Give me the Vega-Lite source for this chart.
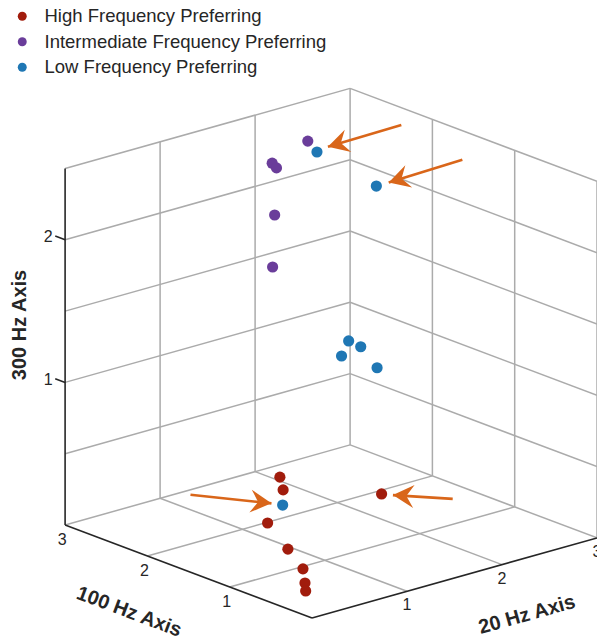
{
  "$schema": "https://vega.github.io/schema/vega-lite/v6.json",
  "width": 532,
  "height": 530,
  "autosize": {"type": "none"},
  "padding": {"left": 65, "top": 88, "right": 0, "bottom": 23},
  "background": "white",
  "config": {"view": {"stroke": null}, "font": "Liberation Sans"},
  "data": {"values": [
    {"layer": "grid", "hz20": 1, "hz100": 0, "hz300": 0, "hz20_end": 1, "hz100_end": 3, "hz300_end": 0},
    {"layer": "grid", "hz20": 2, "hz100": 0, "hz300": 0, "hz20_end": 2, "hz100_end": 3, "hz300_end": 0},
    {"layer": "grid", "hz20": 0, "hz100": 1, "hz300": 0, "hz20_end": 3, "hz100_end": 1, "hz300_end": 0},
    {"layer": "grid", "hz20": 0, "hz100": 2, "hz300": 0, "hz20_end": 3, "hz100_end": 2, "hz300_end": 0},
    {"layer": "grid", "hz20": 0, "hz100": 3, "hz300": 0, "hz20_end": 3, "hz100_end": 3, "hz300_end": 0},
    {"layer": "grid", "hz20": 3, "hz100": 0, "hz300": 0, "hz20_end": 3, "hz100_end": 3, "hz300_end": 0},
    {"layer": "grid", "hz20": 1, "hz100": 3, "hz300": 0, "hz20_end": 1, "hz100_end": 3, "hz300_end": 2.5},
    {"layer": "grid", "hz20": 2, "hz100": 3, "hz300": 0, "hz20_end": 2, "hz100_end": 3, "hz300_end": 2.5},
    {"layer": "grid", "hz20": 3, "hz100": 3, "hz300": 0, "hz20_end": 3, "hz100_end": 3, "hz300_end": 2.5},
    {"layer": "grid", "hz20": 0, "hz100": 3, "hz300": 0.5, "hz20_end": 3, "hz100_end": 3, "hz300_end": 0.5},
    {"layer": "grid", "hz20": 0, "hz100": 3, "hz300": 1, "hz20_end": 3, "hz100_end": 3, "hz300_end": 1},
    {"layer": "grid", "hz20": 0, "hz100": 3, "hz300": 1.5, "hz20_end": 3, "hz100_end": 3, "hz300_end": 1.5},
    {"layer": "grid", "hz20": 0, "hz100": 3, "hz300": 2, "hz20_end": 3, "hz100_end": 3, "hz300_end": 2},
    {"layer": "grid", "hz20": 0, "hz100": 3, "hz300": 2.5, "hz20_end": 3, "hz100_end": 3, "hz300_end": 2.5},
    {"layer": "grid", "hz20": 3, "hz100": 0, "hz300": 0, "hz20_end": 3, "hz100_end": 0, "hz300_end": 2.5},
    {"layer": "grid", "hz20": 3, "hz100": 1, "hz300": 0, "hz20_end": 3, "hz100_end": 1, "hz300_end": 2.5},
    {"layer": "grid", "hz20": 3, "hz100": 2, "hz300": 0, "hz20_end": 3, "hz100_end": 2, "hz300_end": 2.5},
    {"layer": "grid", "hz20": 3, "hz100": 0, "hz300": 0.5, "hz20_end": 3, "hz100_end": 3, "hz300_end": 0.5},
    {"layer": "grid", "hz20": 3, "hz100": 0, "hz300": 1, "hz20_end": 3, "hz100_end": 3, "hz300_end": 1},
    {"layer": "grid", "hz20": 3, "hz100": 0, "hz300": 1.5, "hz20_end": 3, "hz100_end": 3, "hz300_end": 1.5},
    {"layer": "grid", "hz20": 3, "hz100": 0, "hz300": 2, "hz20_end": 3, "hz100_end": 3, "hz300_end": 2},
    {"layer": "grid", "hz20": 3, "hz100": 0, "hz300": 2.5, "hz20_end": 3, "hz100_end": 3, "hz300_end": 2.5},
    {"layer": "axis", "hz20": 0, "hz100": 0, "hz300": 0, "hz20_end": 3, "hz100_end": 0, "hz300_end": 0},
    {"layer": "axis", "hz20": 0, "hz100": 0, "hz300": 0, "hz20_end": 0, "hz100_end": 3, "hz300_end": 0},
    {"layer": "axis", "hz20": 0, "hz100": 3, "hz300": 0, "hz20_end": 0, "hz100_end": 3, "hz300_end": 2.5},
    {"layer": "axis", "hz20": 0, "hz100": 3, "hz300": 1, "hz20_end": 0, "hz100_end": 3.12, "hz300_end": 1},
    {"layer": "axis", "hz20": 0, "hz100": 3, "hz300": 2, "hz20_end": 0, "hz100_end": 3.12, "hz300_end": 2},
    {"layer": "point", "group": "High Frequency Preferring", "hz20": 1.49, "hz100": 2.11, "hz300": 0.25},
    {"layer": "point", "group": "High Frequency Preferring", "hz20": 1.42, "hz100": 1.99, "hz300": 0.2},
    {"layer": "point", "group": "High Frequency Preferring", "hz20": 1.72, "hz100": 1.14, "hz300": 0.3},
    {"layer": "point", "group": "High Frequency Preferring", "hz20": 0.91, "hz100": 1.59, "hz300": 0.15},
    {"layer": "point", "group": "High Frequency Preferring", "hz20": 0.5, "hz100": 0.87, "hz300": 0.2},
    {"layer": "point", "group": "High Frequency Preferring", "hz20": 0.39, "hz100": 0.56, "hz300": 0.15},
    {"layer": "point", "group": "High Frequency Preferring", "hz20": 0.29, "hz100": 0.42, "hz300": 0.1},
    {"layer": "point", "group": "High Frequency Preferring", "hz20": 0.28, "hz100": 0.4, "hz300": 0.05},
    {"layer": "point", "group": "Intermediate Frequency Preferring", "hz20": 2.13, "hz100": 2.51, "hz300": 2.4},
    {"layer": "point", "group": "Intermediate Frequency Preferring", "hz20": 1.79, "hz100": 2.55, "hz300": 2.3},
    {"layer": "point", "group": "Intermediate Frequency Preferring", "hz20": 1.74, "hz100": 2.44, "hz300": 2.3},
    {"layer": "point", "group": "Intermediate Frequency Preferring", "hz20": 1.66, "hz100": 2.37, "hz300": 2.0},
    {"layer": "point", "group": "Intermediate Frequency Preferring", "hz20": 1.5, "hz100": 2.21, "hz300": 1.7},
    {"layer": "point", "group": "Low Frequency Preferring", "hz20": 2.01, "hz100": 2.26, "hz300": 2.4},
    {"layer": "point", "group": "Low Frequency Preferring", "hz20": 2.28, "hz100": 1.85, "hz300": 2.2},
    {"layer": "point", "group": "Low Frequency Preferring", "hz20": 1.46, "hz100": 1.24, "hz300": 1.4},
    {"layer": "point", "group": "Low Frequency Preferring", "hz20": 1.44, "hz100": 1.07, "hz300": 1.4},
    {"layer": "point", "group": "Low Frequency Preferring", "hz20": 1.29, "hz100": 1.13, "hz300": 1.35},
    {"layer": "point", "group": "Low Frequency Preferring", "hz20": 1.43, "hz100": 0.86, "hz300": 1.3},
    {"layer": "point", "group": "Low Frequency Preferring", "hz20": 1.06, "hz100": 1.58, "hz300": 0.25},
    {"layer": "arrow", "hz20": 2.95, "hz100": 2.32, "hz300": 2.4, "hz20_end": 2.16, "hz100_end": 2.3, "hz300_end": 2.4},
    {"layer": "arrow", "hz20": 3.22, "hz100": 1.89, "hz300": 2.2, "hz20_end": 2.41, "hz100_end": 1.85, "hz300_end": 2.2},
    {"layer": "arrow", "hz20": 0.67, "hz100": 2.25, "hz300": 0.25, "hz20_end": 1.02, "hz100_end": 1.67, "hz300_end": 0.25},
    {"layer": "arrow", "hz20": 2.07, "hz100": 0.68, "hz300": 0.3, "hz20_end": 1.77, "hz100_end": 1.06, "hz300_end": 0.3},
    {"layer": "label", "axis": "300", "text": "1", "hz20": 0, "hz100": 3.15, "hz300": 1},
    {"layer": "label", "axis": "300", "text": "2", "hz20": 0, "hz100": 3.15, "hz300": 2},
    {"layer": "label", "axis": "100", "text": "1", "hz20": 0, "hz100": 1, "hz300": 0},
    {"layer": "label", "axis": "100", "text": "2", "hz20": 0, "hz100": 2, "hz300": 0},
    {"layer": "label", "axis": "100", "text": "3", "hz20": 0, "hz100": 3, "hz300": 0},
    {"layer": "label", "axis": "20", "text": "1", "hz20": 1, "hz100": 0, "hz300": 0},
    {"layer": "label", "axis": "20", "text": "2", "hz20": 2, "hz100": 0, "hz300": 0},
    {"layer": "label", "axis": "20", "text": "3", "hz20": 3, "hz100": 0, "hz300": 0},
    {"layer": "title", "axis": "300", "text": "300 Hz Axis", "hz20": 0, "hz100": 3, "hz300": 1.25},
    {"layer": "title", "axis": "100", "text": "100 Hz Axis", "hz20": 0, "hz100": 1.5, "hz300": 0},
    {"layer": "title", "axis": "20", "text": "20 Hz Axis", "hz20": 1.5, "hz100": 0, "hz300": 0}
  ]},
  "transform": [
    {"calculate": "95*datum.hz20 - 82.3*datum.hz100", "as": "px"},
    {"calculate": "26.7*datum.hz20 + 31*datum.hz100 + 142.6*datum.hz300", "as": "py"},
    {"calculate": "95*datum.hz20_end - 82.3*datum.hz100_end", "as": "px_end"},
    {"calculate": "26.7*datum.hz20_end + 31*datum.hz100_end + 142.6*datum.hz300_end", "as": "py_end"},
    {"calculate": "atan2(datum.px_end - datum.px, datum.py_end - datum.py) * 180 / PI", "as": "heading"}
  ],
  "layer": [
    {
      "transform": [{"filter": "datum.layer == 'grid'"}],
      "mark": {"type": "rule", "color": "#ababab", "strokeWidth": 1.5},
      "encoding": {
        "x": {"field": "px", "type": "quantitative", "scale": {"domain": [-247, 285], "nice": false, "zero": false}, "axis": null},
        "y": {"field": "py", "type": "quantitative", "scale": {"domain": [0, 530], "nice": false, "zero": false}, "axis": null},
        "x2": {"field": "px_end"},
        "y2": {"field": "py_end"}
      }
    },
    {
      "transform": [{"filter": "datum.layer == 'axis'"}],
      "mark": {"type": "rule", "color": "#262626", "strokeWidth": 1.6},
      "encoding": {
        "x": {"field": "px", "type": "quantitative", "axis": null},
        "y": {"field": "py", "type": "quantitative", "axis": null},
        "x2": {"field": "px_end"},
        "y2": {"field": "py_end"}
      }
    },
    {
      "transform": [{"filter": "datum.layer == 'point'"}],
      "mark": {"type": "circle", "size": 125, "opacity": 1},
      "encoding": {
        "x": {"field": "px", "type": "quantitative", "axis": null},
        "y": {"field": "py", "type": "quantitative", "axis": null},
        "color": {
          "field": "group", "type": "nominal",
          "scale": {"domain": ["High Frequency Preferring", "Intermediate Frequency Preferring", "Low Frequency Preferring"], "range": ["#a11c0c", "#6a3d9a", "#1f77b4"]},
          "legend": {
            "title": null, "orient": "none", "legendX": -52, "legendY": -81,
            "labelFont": "Liberation Sans", "labelFontSize": 18.5, "labelColor": "#262626", "labelLimit": 0,
            "symbolSize": 80, "symbolType": "circle", "labelOffset": 13, "rowPadding": 6.5
          }
        }
      }
    },
    {
      "transform": [{"filter": "datum.layer == 'arrow'"}],
      "mark": {"type": "rule", "color": "#d9661a", "strokeWidth": 2.6},
      "encoding": {
        "x": {"field": "px", "type": "quantitative", "axis": null},
        "y": {"field": "py", "type": "quantitative", "axis": null},
        "x2": {"field": "px_end"},
        "y2": {"field": "py_end"}
      }
    },
    {
      "transform": [{"filter": "datum.layer == 'arrow'"}],
      "mark": {"type": "point", "shape": "M0,0L0.55,1L0,0.64L-0.55,1Z", "size": 1764, "filled": true, "color": "#d9661a", "opacity": 1, "strokeWidth": 0},
      "encoding": {
        "x": {"field": "px_end", "type": "quantitative", "axis": null},
        "y": {"field": "py_end", "type": "quantitative", "axis": null},
        "angle": {"field": "heading", "type": "quantitative", "scale": null}
      }
    },
    {
      "transform": [{"filter": "datum.layer == 'label' && datum.axis == '300'"}],
      "mark": {"type": "text", "align": "right", "baseline": "middle", "dy": 2, "fontSize": 16, "color": "#262626"},
      "encoding": {
        "x": {"field": "px", "type": "quantitative", "axis": null},
        "y": {"field": "py", "type": "quantitative", "axis": null},
        "text": {"field": "text"}
      }
    },
    {
      "transform": [{"filter": "datum.layer == 'label' && datum.axis == '100'"}],
      "mark": {"type": "text", "align": "center", "baseline": "middle", "dx": -3, "dy": 15, "fontSize": 16, "color": "#262626"},
      "encoding": {
        "x": {"field": "px", "type": "quantitative", "axis": null},
        "y": {"field": "py", "type": "quantitative", "axis": null},
        "text": {"field": "text"}
      }
    },
    {
      "transform": [{"filter": "datum.layer == 'label' && datum.axis == '20'"}],
      "mark": {"type": "text", "align": "center", "baseline": "middle", "dy": 14, "fontSize": 16, "color": "#262626"},
      "encoding": {
        "x": {"field": "px", "type": "quantitative", "axis": null},
        "y": {"field": "py", "type": "quantitative", "axis": null},
        "text": {"field": "text"}
      }
    },
    {
      "transform": [{"filter": "datum.layer == 'title' && datum.axis == '300'"}],
      "mark": {"type": "text", "align": "center", "baseline": "middle", "angle": 270, "dx": 21.75, "dy": -45.6, "fontSize": 20, "fontWeight": "bold", "color": "#262626"},
      "encoding": {
        "x": {"field": "px", "type": "quantitative", "axis": null},
        "y": {"field": "py", "type": "quantitative", "axis": null},
        "text": {"field": "text"}
      }
    },
    {
      "transform": [{"filter": "datum.layer == 'title' && datum.axis == '100'"}],
      "mark": {"type": "text", "align": "center", "baseline": "middle", "angle": 20.6, "dx": -41.4, "dy": 58.8, "fontSize": 20, "fontWeight": "bold", "color": "#262626"},
      "encoding": {
        "x": {"field": "px", "type": "quantitative", "axis": null},
        "y": {"field": "py", "type": "quantitative", "axis": null},
        "text": {"field": "text"}
      }
    },
    {
      "transform": [{"filter": "datum.layer == 'title' && datum.axis == '20'"}],
      "mark": {"type": "text", "align": "center", "baseline": "middle", "angle": 344.3, "dx": 59.8, "dy": 55.2, "fontSize": 20, "fontWeight": "bold", "color": "#262626"},
      "encoding": {
        "x": {"field": "px", "type": "quantitative", "axis": null},
        "y": {"field": "py", "type": "quantitative", "axis": null},
        "text": {"field": "text"}
      }
    }
  ]
}
